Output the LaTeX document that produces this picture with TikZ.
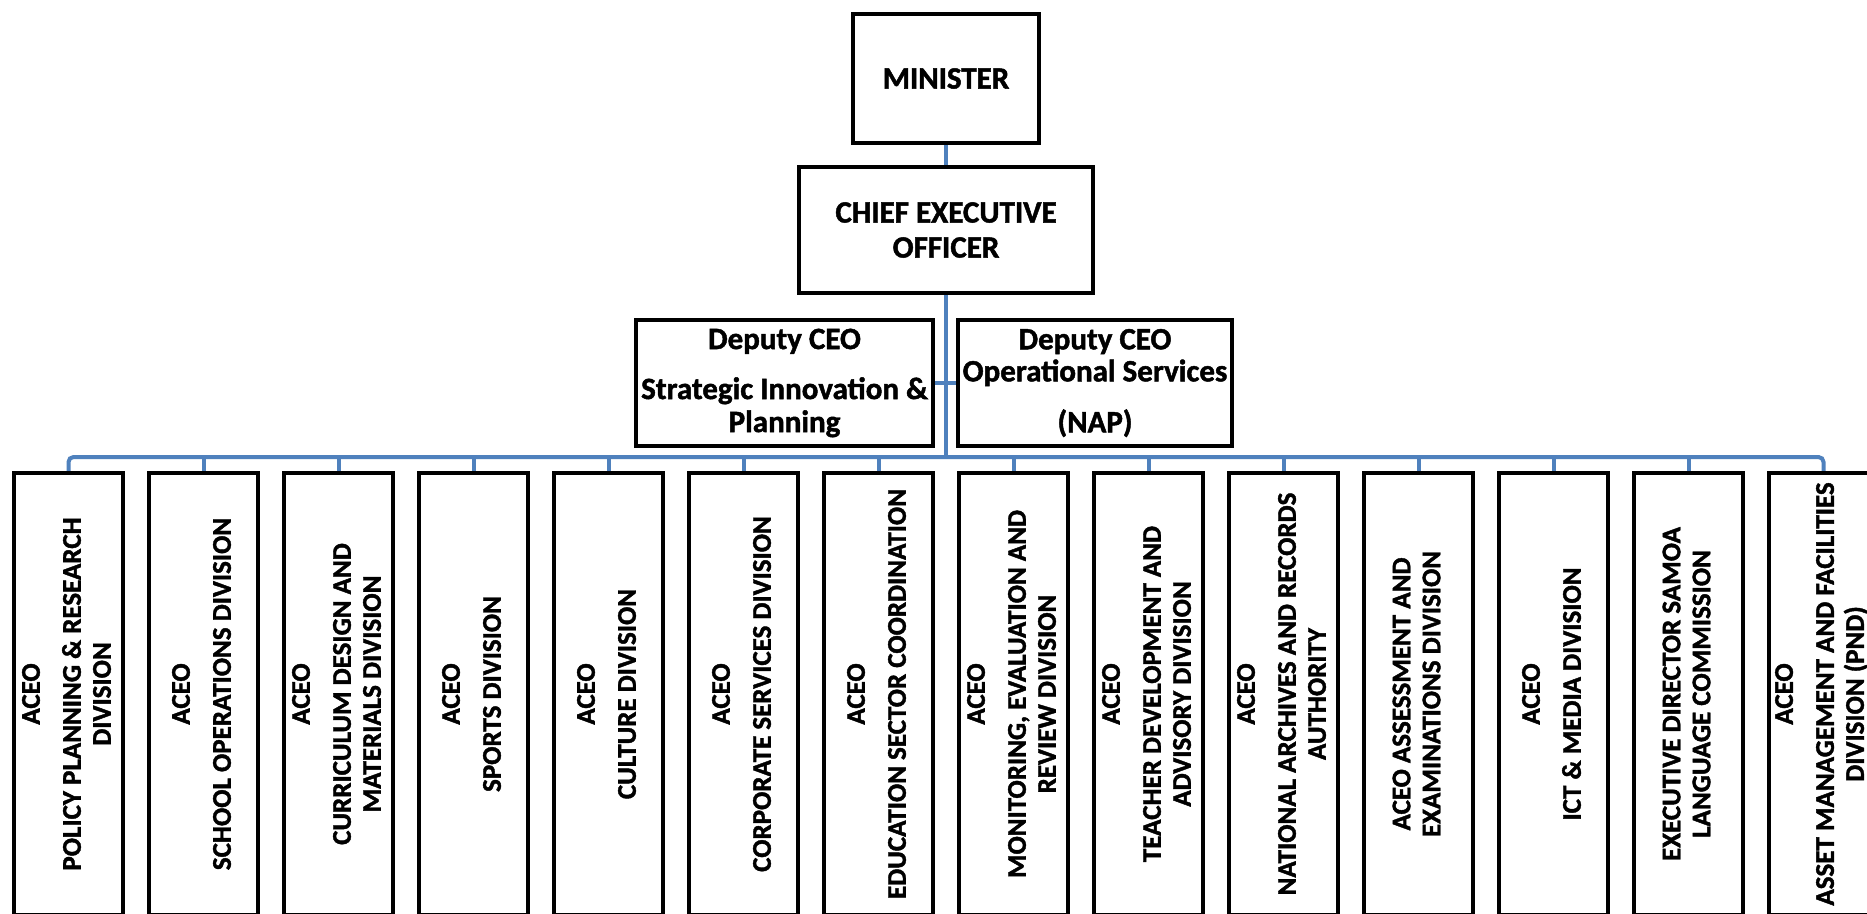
\documentclass[tikz,border=0pt]{standalone}
\usepackage{fontspec}
\setmainfont{Carlito}[BoldFeatures={FakeBold=1.5}]
\definecolor{connblue}{HTML}{4F81BD}
\pgfdeclarelayer{background}
\pgfsetlayers{background,main}
\begin{document}
\begin{tikzpicture}[x=1pt,y=-1pt,
  boxstyle/.style={draw=black, line width=4.5pt, fill=white, inner sep=0pt, align=center,
    font=\bfseries\fontsize{31}{35}\selectfont},
  divbox/.style={draw=black, line width=4.5pt, fill=white, inner sep=0pt,
    minimum width=109pt, minimum height=442pt},
  divtext/.style={rotate=90, align=center, inner sep=0pt,
    font=\bfseries\fontsize{27}{30}\selectfont},
  conn/.style={draw=connblue, line width=4pt}]
\useasboundingbox (0,0) rectangle (1867,913);
\clip (0,0) rectangle (1867,913);

\node[boxstyle, minimum width=186pt, minimum height=129pt] (min) at (946,78.5) {MINISTER};
\node[boxstyle, minimum width=294pt, minimum height=126pt] (ceo) at (946,230) {CHIEF EXECUTIVE\\OFFICER};
\node[boxstyle, minimum width=297pt, minimum height=126pt, font=\bfseries\fontsize{31}{33}\selectfont] (depL) at (784.5,383)
  {Deputy CEO\\[17pt]Strategic Innovation \&\\Planning};
\node[boxstyle, minimum width=274pt, minimum height=126pt, font=\bfseries\fontsize{31}{32}\selectfont] (depR) at (1095,383)
  {Deputy CEO\\Operational Services\\[19pt](NAP)};
\coordinate (busc) at (946,457);

\foreach \i/\txt in {
  1/{ACEO\\[11pt]POLICY PLANNING \& RESEARCH\\DIVISION},
  2/{ACEO\\[11pt]SCHOOL OPERATIONS DIVISION},
  3/{ACEO\\[11pt]CURRICULUM DESIGN AND\\MATERIALS DIVISION},
  4/{ACEO\\[11pt]SPORTS DIVISION},
  5/{ACEO\\[11pt]CULTURE DIVISION},
  6/{ACEO\\[11pt]CORPORATE SERVICES DIVISION},
  7/{ACEO\\[11pt]EDUCATION SECTOR COORDINATION},
  8/{ACEO\\[11pt]MONITORING, EVALUATION AND\\REVIEW DIVISION},
  9/{ACEO\\[11pt]TEACHER DEVELOPMENT AND\\ADVISORY DIVISION},
  10/{ACEO\\[11pt]NATIONAL ARCHIVES AND RECORDS\\AUTHORITY},
  11/{ACEO ASSESSMENT AND\\EXAMINATIONS DIVISION},
  12/{ACEO\\[11pt]ICT \& MEDIA DIVISION},
  13/{EXECUTIVE DIRECTOR SAMOA\\LANGUAGE COMMISSION},
  14/{ACEO\\[11pt]ASSET MANAGEMENT AND FACILITIES\\DIVISION (PND)}} {
  \node[divbox] (d\i) at ({68.5+135*(\i-1)},694) {};
  \node[divtext, yshift=2pt] (t\i) at (d\i.center) {\txt};
}

\begin{pgfonlayer}{background}
  \fill[white] (0,0) rectangle (1867,913);
  \draw[conn] (min.south) -- (ceo.north);
  \draw[conn] (ceo.south) -- (busc);
  \draw[conn] (depL.east) -- (depR.west);
  \draw[conn, rounded corners=5pt] (d1.north) -- (d1.north |- busc) -- (d14.north |- busc) -- (d14.north);
  \foreach \i in {2,...,13} {
    \draw[conn] (d\i.north) -- (d\i.north |- busc);
  }
\end{pgfonlayer}
\end{tikzpicture}
\end{document}
